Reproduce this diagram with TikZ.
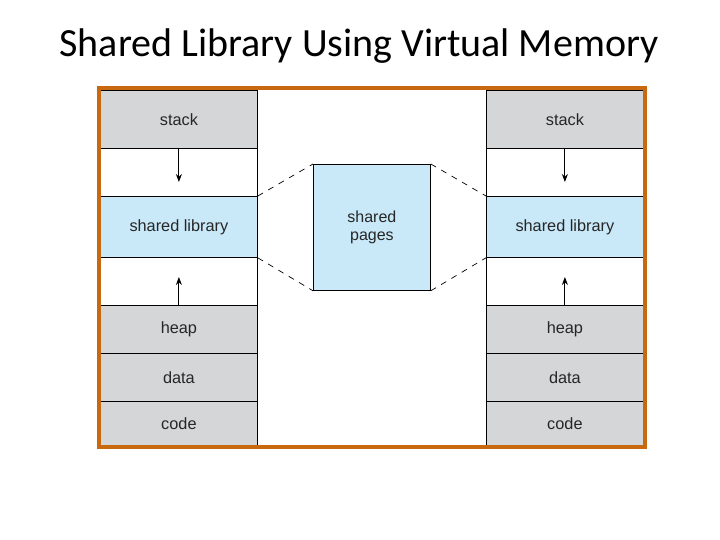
\documentclass[tikz,border=0pt]{standalone}
\usepackage{fontspec}
\setmainfont{Liberation Sans}
\newfontfamily\titlefont{Carlito}
\usetikzlibrary{arrows.meta}
\definecolor{memgray}{HTML}{D5D6D8}
\definecolor{memblue}{HTML}{C9E9F9}
\definecolor{frameorange}{HTML}{C8690F}
\definecolor{txt}{HTML}{262626}
\tikzset{
  seg/.style={draw=black, line width=0.8pt, inner sep=0pt, font=\fontsize{16.3}{18}\selectfont, text=txt},
  grayseg/.style={seg, fill=memgray},
  blueseg/.style={seg, fill=memblue},
  whiteseg/.style={seg, fill=white},
  growarrow/.style={draw=black, line width=1pt, -{Stealth[length=8pt,width=6pt]}},
  mapline/.style={draw=black, line width=0.7pt, dash pattern=on 6pt off 6pt},
}
\begin{document}
\begin{tikzpicture}[x=1pt,y=-1pt]
\useasboundingbox (0,0) rectangle (720,540);
\node[font=\titlefont\fontsize{40}{44}\selectfont, text=black] (title) at (359,46) {Shared Library Using Virtual Memory};
% outer frame
\fill[white] (98,88) rectangle (645,447);
% left process
\node[grayseg, minimum width=157pt, minimum height=58pt, anchor=north west] (lstack) at (100,90) {stack};
\node[whiteseg, minimum width=157pt, minimum height=48pt, anchor=north west] (lgap1) at (100,148) {};
\node[blueseg, minimum width=157pt, minimum height=61pt, anchor=north west] (llib) at (100,196) {shared library};
\node[whiteseg, minimum width=157pt, minimum height=48pt, anchor=north west] (lgap2) at (100,257) {};
\node[grayseg, minimum width=157pt, minimum height=48pt, anchor=north west] (lheap) at (100,305) {heap};
\node[grayseg, minimum width=157pt, minimum height=48pt, anchor=north west] (ldata) at (100,353) {data};
\node[grayseg, minimum width=157pt, minimum height=45pt, anchor=north west] (lcode) at (100,401) {code};
% right process
\node[grayseg, minimum width=157pt, minimum height=58pt, anchor=north west] (rstack) at (486,90) {stack};
\node[whiteseg, minimum width=157pt, minimum height=48pt, anchor=north west] (rgap1) at (486,148) {};
\node[blueseg, minimum width=157pt, minimum height=61pt, anchor=north west] (rlib) at (486,196) {shared library};
\node[whiteseg, minimum width=157pt, minimum height=48pt, anchor=north west] (rgap2) at (486,257) {};
\node[grayseg, minimum width=157pt, minimum height=48pt, anchor=north west] (rheap) at (486,305) {heap};
\node[grayseg, minimum width=157pt, minimum height=48pt, anchor=north west] (rdata) at (486,353) {data};
\node[grayseg, minimum width=157pt, minimum height=45pt, anchor=north west] (rcode) at (486,401) {code};
% shared pages
\node[blueseg, minimum width=117pt, minimum height=126pt, anchor=north west, align=center, font=\fontsize{16}{18.5}\selectfont] (pages) at (313,164) {shared\\pages};
% growth arrows
\coordinate (lsend) at (lgap1.north |- 0,182);
\coordinate (lhend) at (lgap2.south |- 0,277);
\coordinate (rsend) at (rgap1.north |- 0,182);
\coordinate (rhend) at (rgap2.south |- 0,277);
\draw[growarrow] (lgap1.north) -- (lsend);
\draw[growarrow] (lgap2.south) -- (lhend);
\draw[growarrow] (rgap1.north) -- (rsend);
\draw[growarrow] (rgap2.south) -- (rhend);
% mapping lines
\draw[mapline] (llib.north east) -- (pages.north west);
\draw[mapline] (llib.south east) -- (pages.south west);
\draw[mapline] (pages.north east) -- (rlib.north west);
\draw[mapline] (pages.south east) -- (rlib.south west);
% frame
\draw[frameorange, line width=4pt] (98.5,88.5) rectangle (644.5,446.5);
\end{tikzpicture}
\end{document}
